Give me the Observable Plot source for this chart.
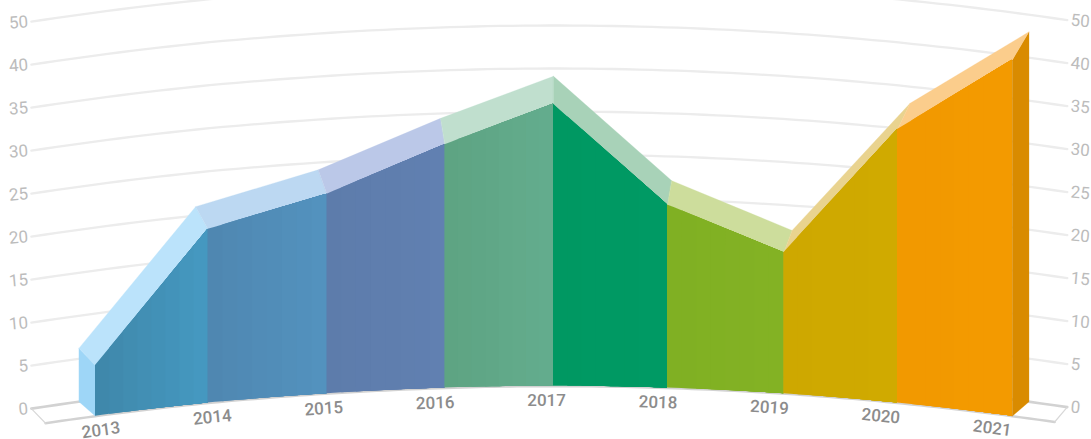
<!DOCTYPE html>
<html><head><meta charset="utf-8">
<style>html,body{margin:0;padding:0;background:#fff;overflow:hidden}svg{display:block}</style>
<script src="https://cdn.jsdelivr.net/npm/d3@7"></script>
<script src="https://cdn.jsdelivr.net/npm/@observablehq/plot@0.6"></script>
</head><body><div id="chart"></div>
<script>
const years = [2013,2014,2015,2016,2017,2018,2019,2020,2021];
const values = [5.9,20.2,23.2,28.3,32.8,21.3,16.4,31.8,42.8];
const tickLabels = [0,5,10,15,20,25,30,35,40,50];
const frontFrom = ["#3f88ab","#4f87b1","#5d7cab","#5ea483","#009862","#80b023","#cea800","#f29900"];
const frontTo   = ["#4598c0","#5392be","#6180b1","#63ac8d","#009a64","#83b224","#d0aa00","#f39a00"];
const topFaces  = ["#bbe3fb","#bcd8f2","#bbc8e8","#c0dfce","#a8d2b8","#cddd9c","#e9d38f","#fbcd8c"];
const leftSide = "#9ed6f7", rightSide = "#d98b00";
const xRange = [95,207.5,326.5,444.4,553,667,783.3,897,1011.7];

// projection of the curved, extruded plane into the scales' units
const mid = 2017, sag = 0.218, floorDepth = 1.94, stretch = 1.036, spread = 0.0366;
const axisPos = d3.scaleLinear([0,40,50],[0,40,45]);
const pxToYear = d3.scaleLinear(xRange, years);
const bend = t => sag * (t - mid) ** 2;
const crown = t => 0.116 - 0.016 * (t - mid) ** 2;
const backFloor = t => -bend(t);
const frontFloor = t => -floorDepth - bend(t);
const frontTop = i => frontFloor(years[i]) + axisPos(values[i]);
const backPt = i => ({x: years[i] + spread * (years[i] - mid), y: backFloor(years[i]) + axisPos(values[i]) * stretch + crown(years[i])});
const frontPt = i => ({x: years[i], y: frontTop(i)});
const tLeft = 2012.43, tRight = 2021.48, floorL = 2012.556, floorR = 2021.37;
const samples = (a, b, n) => d3.range(n + 1).map(k => a + (b - a) * k / n);

// front face: each band runs to the end of its segment, so later bands overpaint it without seams
const bands = [];
years.slice(0, -1).forEach((y, i) => {
  const nb = 8, color = d3.interpolateRgb(frontFrom[i], frontTo[i]);
  for (let b = 0; b < nb; b++) {
    samples(y + b / nb, y + 1, 16).forEach(t => bands.push({
      t, band: i * 100 + b, color: color(b / (nb - 1)), floor: frontFloor(t),
      top: frontTop(i) + (frontTop(i + 1) - frontTop(i)) * (t - y)
    }));
  }
});

const poly = (pts, fill) => Plot.line(pts, {x: "x", y: "y", fill, stroke: fill, strokeWidth: 0.3, curve: "linear-closed"});
const last = years.length - 1;
const topMarks = topFaces.map((c, i) => poly([frontPt(i), frontPt(i + 1), backPt(i + 1), backPt(i)], c));
const leftMark = poly([backPt(0), frontPt(0), {x: years[0], y: frontFloor(years[0])}, {x: backPt(0).x, y: backFloor(backPt(0).x)}], leftSide);
const rightMark = poly([frontPt(last), backPt(last), {x: backPt(last).x, y: backFloor(backPt(last).x)}, {x: years[last], y: frontFloor(years[last])}], rightSide);

const tickRows = tickLabels.map(v => ({v, p: axisPos(v)}));
const gridRows = tickRows.flatMap(d => samples(tLeft, tRight, 80).map(t => ({t, v: d.v, y: d.p + backFloor(t)})));
const labelYear = t => pxToYear(100.5 + 111.4 * (t - years[0]));

const marks = [
  Plot.line(gridRows.filter(d => d.v !== 0), {x: "t", y: "y", z: "v", stroke: "#ececec", strokeWidth: 2.3}),
  Plot.line(gridRows.filter(d => d.v === 0), {x: "t", y: "y", stroke: "#d2d2d2", strokeWidth: 2.6}),
  Plot.line(samples(floorL, floorR, 120).map(t => ({t, y: frontFloor(t)})), {x: "t", y: "y", stroke: "#d2d2d2", strokeWidth: 2.4}),
  Plot.line([{t: tLeft, y: backFloor(tLeft)}, {t: floorL, y: frontFloor(floorL)}], {x: "t", y: "y", stroke: "#d8d8d8", strokeWidth: 1.2}),
  Plot.line([{t: tRight, y: backFloor(tRight)}, {t: floorR, y: frontFloor(floorR)}], {x: "t", y: "y", stroke: "#d8d8d8", strokeWidth: 1.2}),
  leftMark, rightMark,
  ...topMarks,
  Plot.area(bands, {x1: "t", y1: "floor", y2: "top", z: "band", fill: "color", curve: "linear"}),
  Plot.text(tickRows, {x: tLeft - 0.03, y: d => d.p + backFloor(tLeft), text: d => String(d.v), textAnchor: "end", rotate: -5, fill: "#bcbcbc", fontSize: 17, fontFamily: "Roboto"}),
  Plot.text(tickRows, {x: tRight + 0.03, y: d => d.p + backFloor(tRight), text: d => String(d.v), textAnchor: "start", rotate: 5, fill: "#bcbcbc", fontSize: 17, fontFamily: "Roboto"}),
  Plot.text(years, {x: labelYear, y: d => frontFloor(labelYear(d)) - 1.72, text: d => String(d), rotate: d => (d - mid) * 1.9, fill: "#8c8c8c", fontSize: 17, fontWeight: 500, fontFamily: "Roboto"})
];

const chart = Plot.plot({
  width: 1091, height: 439, margin: 0,
  style: {background: "#fff", overflow: "hidden"},
  x: {type: "linear", axis: null, domain: years, range: xRange},
  y: {type: "linear", axis: null, domain: [0,40], range: [369,25]},
  marks
});
document.getElementById("chart").appendChild(chart);
</script></body></html>
